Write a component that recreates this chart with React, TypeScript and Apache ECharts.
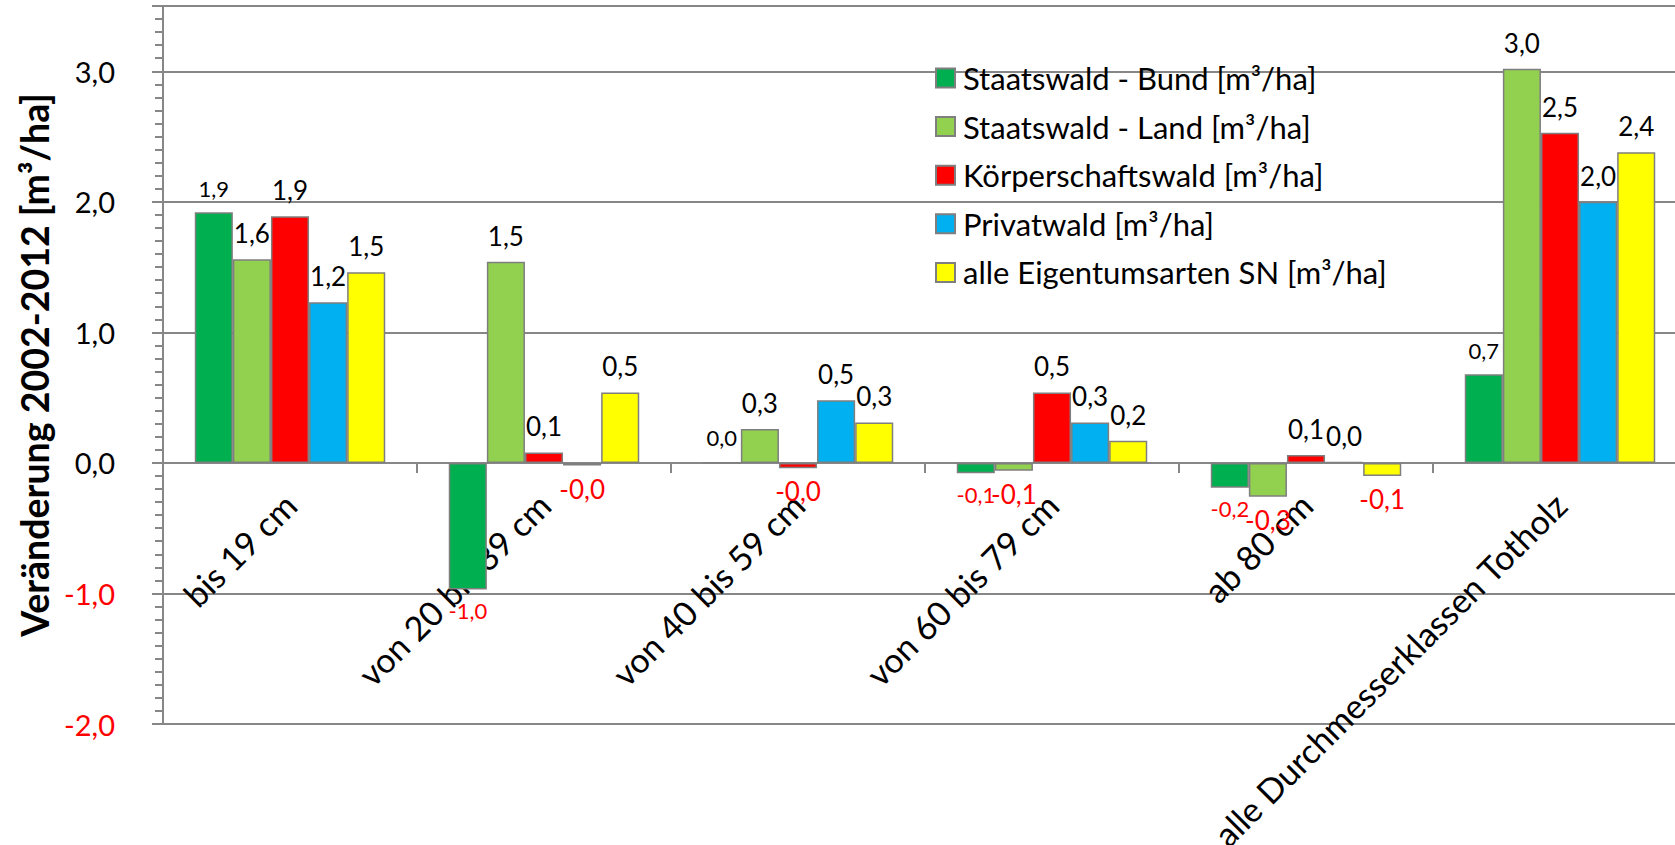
import React, { useEffect, useRef } from "react";
import * as echarts from "echarts";

const categories = [
  "bis 19 cm",
  "von 20 bis 39 cm",
  "von 40 bis 59 cm",
  "von 60 bis 79 cm",
  "ab 80 cm",
  "alle Durchmesserklassen Totholz",
];
const seriesNames = [
  "Staatswald - Bund [m³/ha]",
  "Staatswald - Land [m³/ha]",
  "Körperschaftswald [m³/ha]",
  "Privatwald [m³/ha]",
  "alle Eigentumsarten SN [m³/ha]",
];
const staatswaldBund = [1.92, -0.97, 0.004, -0.08, -0.19, 0.68];
const staatswaldLand = [1.56, 1.54, 0.26, -0.06, -0.26, 3.02];
const koerperschaftswald = [1.89, 0.08, -0.04, 0.54, 0.06, 2.53];
const privatwald = [1.23, -0.02, 0.48, 0.31, 0.005, 2.0];
const alleEigentumsarten = [1.46, 0.54, 0.31, 0.17, -0.1, 2.38];
const yTickLabels = [-2, -1, 0, 1, 2, 3];

const seriesData = [staatswaldBund, staatswaldLand, koerperschaftswald, privatwald, alleEigentumsarten];
const colors = ["#00B050", "#92D050", "#FF0000", "#00B0F0", "#FFFF00"];
const labelSizes = [22, 26, 26, 26, 26];
const FONT = "Lato";
const GRAY = "#878787";
const Y_MIN = -2;
const Y_MAX = 3.5;
const GRID_TOP = 6;
const GRID_BOTTOM = 121;
const H = 845;

const fmt = (v: number) => v.toFixed(1).replace(".", ",");

export default function App() {
  const ref = useRef<HTMLDivElement>(null);
  useEffect(() => {
    document.body.style.margin = "0";
    const chart = echarts.init(ref.current!, undefined, { renderer: "svg" });
    const plotH = H - GRID_TOP - GRID_BOTTOM;
    const zeroOffset = -(plotH * (0 - Y_MIN)) / (Y_MAX - Y_MIN);
    const option: any = {
      animation: false,
      backgroundColor: "#fff",
      textStyle: { fontFamily: FONT },
      grid: { left: 163, right: -12, top: GRID_TOP, bottom: GRID_BOTTOM, containLabel: false, outerBoundsMode: "none" },
      legend: {
        show: true,
        orient: "vertical",
        left: 930,
        top: 56,
        icon: "rect",
        itemWidth: 19,
        itemHeight: 19,
        itemGap: 14.6,
        textStyle: { fontFamily: FONT, fontSize: 31, color: "#000", lineHeight: 34, padding: [0, 0, 0, 3] },
        data: seriesNames,
      },
      xAxis: {
        type: "category",
        data: categories,
        position: "bottom",
        offset: zeroOffset,
        axisLine: { onZero: false, lineStyle: { color: GRAY, width: 2 } },
        axisTick: { show: true, length: 10, lineStyle: { color: GRAY, width: 2 } },
        axisLabel: {
          interval: 0,
          rotate: 45,
          margin: 36,
          verticalAlign: "middle",
          fontFamily: FONT,
          fontSize: 34,
          color: "#000",
        },
        splitLine: { show: false },
      },
      yAxis: [
        {
          type: "value",
          min: Y_MIN,
          max: Y_MAX,
          interval: 1,
          name: "Veränderung 2002-2012 [m³/ha]",
          nameLocation: "middle",
          nameGap: 108,
          nameTextStyle: { fontFamily: FONT, fontWeight: "bold", fontSize: 37.5, color: "#000" },
          axisLine: { show: true, lineStyle: { color: GRAY, width: 2 } },
          axisTick: { show: true, length: 11, lineStyle: { color: GRAY, width: 2 } },
          axisLabel: {
            margin: 48,
            formatter: (v: number) => {
              const r = Math.round(v * 10) / 10;
              if (!yTickLabels.includes(r)) return "";
              return r < 0 ? `{n|${fmt(r)}}` : `{p|${fmt(r)}}`;
            },
            rich: {
              n: { color: "#FF0000", fontSize: 29, fontFamily: FONT },
              p: { color: "#000", fontSize: 29, fontFamily: FONT },
            },
          },
          splitLine: { show: true, lineStyle: { color: GRAY, width: 2 } },
        },
        {
          type: "value",
          min: Y_MIN,
          max: Y_MAX,
          interval: 0.1,
          position: "left",
          axisLine: { show: false },
          axisTick: { show: true, length: 8, lineStyle: { color: GRAY, width: 2 } },
          axisLabel: { show: false },
          splitLine: { show: false },
        },
      ],
      series: seriesNames.map((name, i) => ({
        name,
        type: "bar",
        yAxisIndex: 0,
        data: seriesData[i].map((v) => ({
          value: v,
          label: { position: v < 0 ? "bottom" : "top", distance: v < 0 ? 10 : 13 },
        })),
        barGap: "0%",
        barCategoryGap: "25%",
        itemStyle: { color: colors[i], borderColor: "#7f7f7f", borderWidth: 1.5 },
        label: {
          show: true,
          formatter: (p: any) => {
            const v = p.value as number;
            return v < 0 ? `{n|${fmt(v)}}` : `{p|${fmt(v)}}`;
          },
          rich: {
            n: { color: "#FF0000", fontSize: labelSizes[i], fontFamily: FONT },
            p: { color: "#000", fontSize: labelSizes[i], fontFamily: FONT },
          },
        },
      })),
    };
    chart.setOption(option);
    return () => chart.dispose();
  }, []);
  return <div ref={ref} style={{ position: "absolute", left: 0, top: 0, width: 1675, height: H }} />;
}
